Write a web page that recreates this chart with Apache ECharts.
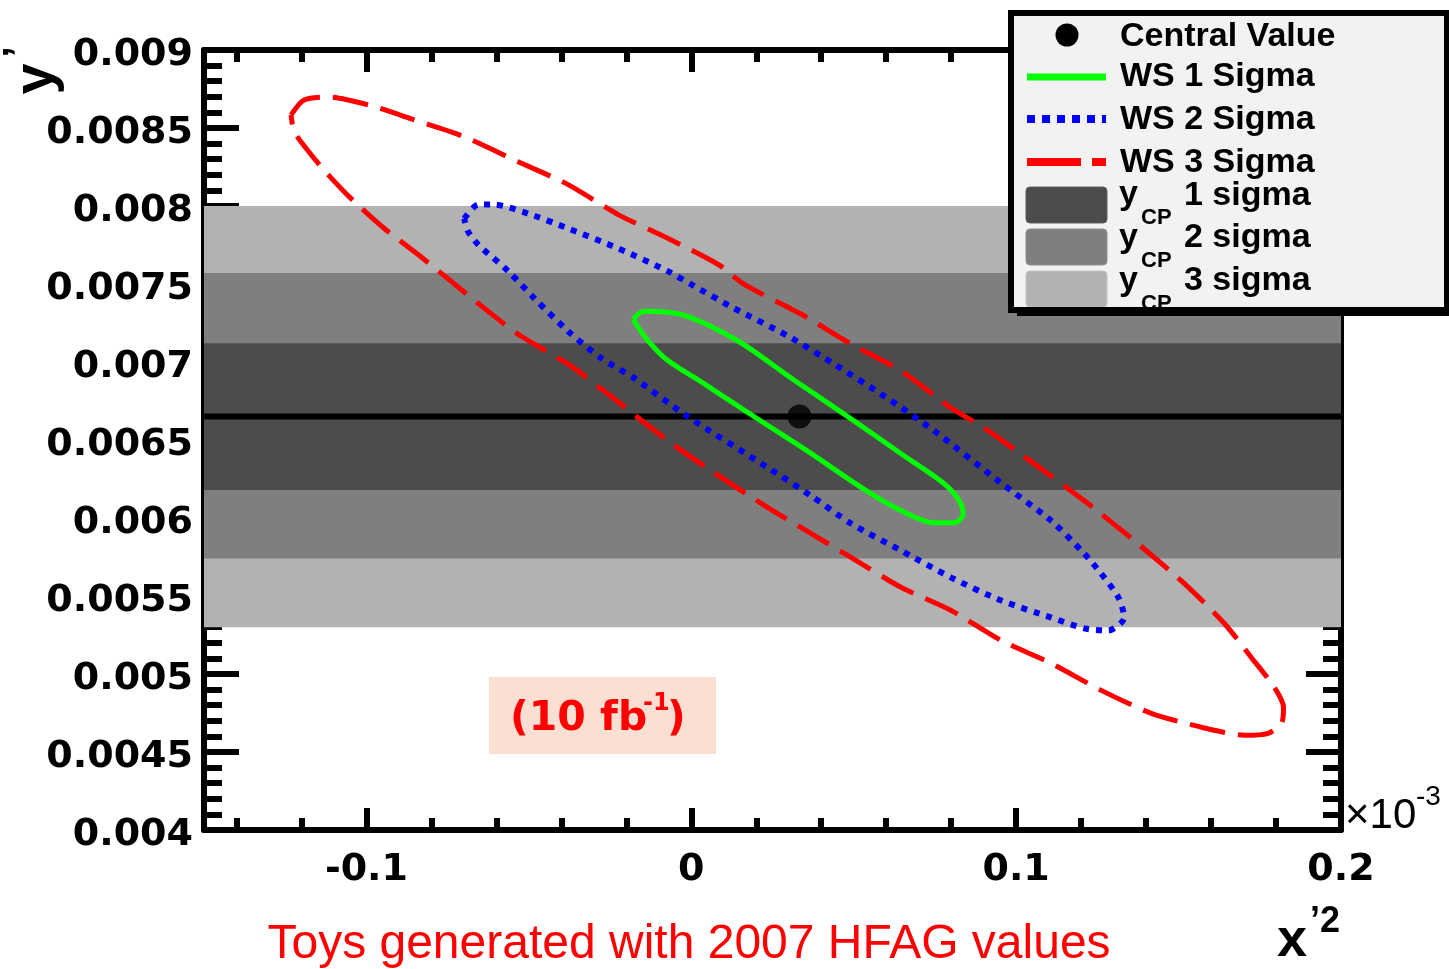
<!DOCTYPE html>
<html>
<head>
<meta charset="utf-8">
<script src="https://cdn.jsdelivr.net/npm/echarts@6/dist/echarts.min.js"></script>
<style>
html,body{margin:0;padding:0;background:#fff;}
#chart{width:1449px;height:969px;}
</style>
</head>
<body>
<div id="chart"></div>
<script>
// ---------- data ----------
const xRange = [-0.15, 0.2];
const yRange = [0.004, 0.009];
const yInterval = 0.0005;
const xMajorTicks = [-0.1, 0, 0.1, 0.2];
const xMinorTicks = [-0.14, -0.12, -0.08, -0.06, -0.04, -0.02, 0.02, 0.04, 0.06, 0.08, 0.12, 0.14, 0.16, 0.18];

const centralValue = [0.0333, 0.00665];
const ycpCenter = 0.00665;
const ycp1Sigma = [0.00618, 0.00712];
const ycp2Sigma = [0.00574, 0.00757];
const ycp3Sigma = [0.00530, 0.00800];

// WS 1 sigma contour (green)
const ws1Sigma = [
  [-0.0179,0.007274],[-0.0145,0.007325],[-0.0022,0.007299],[0.0145,0.007133],[0.0308,0.006896],
  [0.0493,0.006634],[0.0647,0.006410],[0.0779,0.006219],[0.0825,0.006110],[0.0837,0.006027],
  [0.0810,0.005969],[0.0748,0.005969],[0.0647,0.006046],[0.0530,0.006187],[0.0357,0.006430],
  [0.0200,0.006641],[0.0046,0.006852],[-0.0077,0.007018],[-0.0139,0.007152],[-0.0179,0.007274]
];
// WS 2 sigma contour (blue)
const ws2Sigma = [
  [-0.0699,0.007919],[-0.0656,0.008009],[-0.0607,0.008009],[-0.0502,0.007951],[-0.0379,0.007856],
  [-0.0225,0.007728],[-0.0071,0.007581],[0.0000,0.007497],[0.0132,0.007344],[0.0299,0.007165],
  [0.0440,0.006986],[0.0594,0.006781],[0.0748,0.006558],[0.0945,0.006238],[0.1108,0.005982],
  [0.1210,0.005771],[0.1262,0.005643],[0.1315,0.005490],[0.1333,0.005362],[0.1284,0.005279],
  [0.1210,0.005292],[0.1108,0.005362],[0.0954,0.005471],[0.0800,0.005618],[0.0647,0.005790],
  [0.0493,0.005963],[0.0369,0.006142],[0.0237,0.006321],[-0.0022,0.006665],[-0.0175,0.006896],
  [-0.0277,0.007024],[-0.0379,0.007197],[-0.0483,0.007408],[-0.0563,0.007581],[-0.0656,0.007753],
  [-0.0687,0.007836],[-0.0699,0.007919]
];
// WS 3 sigma contour (red)
const ws3Sigma = [
  [-0.1232,0.008584],[-0.1192,0.008680],[-0.1118,0.008699],[-0.0994,0.008648],[-0.0862,0.008559],
  [-0.0699,0.008444],[-0.0533,0.008284],[-0.0379,0.008137],[-0.0225,0.007945],[-0.0071,0.007792],
  [0.0083,0.007625],[0.0163,0.007497],[0.0339,0.007306],[0.0493,0.007114],[0.0647,0.006941],
  [0.0800,0.006705],[0.0902,0.006577],[0.1056,0.006347],[0.1210,0.006110],[0.1364,0.005854],
  [0.1518,0.005579],[0.1641,0.005324],[0.1724,0.005106],[0.1795,0.004914],[0.1823,0.004786],
  [0.1817,0.004684],[0.1776,0.004620],[0.1703,0.004607],[0.1570,0.004659],[0.1416,0.004748],
  [0.1262,0.004895],[0.1108,0.005068],[0.0954,0.005215],[0.0800,0.005407],[0.0647,0.005554],
  [0.0493,0.005746],[0.0391,0.005873],[0.0237,0.006065],[0.0062,0.006302],[-0.0071,0.006494],
  [-0.0256,0.006794],[-0.0379,0.006986],[-0.0533,0.007178],[-0.0637,0.007344],[-0.0739,0.007517],
  [-0.0841,0.007689],[-0.0945,0.007856],[-0.1047,0.008047],[-0.1118,0.008201],[-0.1170,0.008329],
  [-0.1222,0.008476],[-0.1232,0.008584]
];

const legendLabels = ['Central Value', 'WS 1 Sigma', 'WS 2 Sigma', 'WS 3 Sigma'];
const bandLegend = ['1 sigma', '2 sigma', '3 sigma'];

// ---------- chart ----------
const chart = echarts.init(document.getElementById('chart'), null, {renderer: 'canvas'});

const BLACK = '#000';
const tickFont = 'DejaVu Sans';
const lineW = 6;

function xAxisDef(pos, ticks, len, showLine, showLabel) {
  return {
    type: 'value', position: pos, min: xRange[0], max: xRange[1],
    axisLine: {show: showLine, onZero: false, lineStyle: {color: BLACK, width: lineW}},
    axisTick: {show: true, inside: true, length: len, customValues: ticks,
               lineStyle: {color: BLACK, width: 6}},
    axisLabel: showLabel ? {
      show: true, customValues: ticks, margin: 21, color: BLACK,
      fontFamily: tickFont, fontWeight: 'bold', fontSize: 38,
      formatter: v => String(+v.toFixed(3))
    } : {show: false},
    splitLine: {show: false}, minorTick: {show: false}
  };
}
function yAxisDef(pos, showLabel) {
  return {
    type: 'value', position: pos, min: yRange[0], max: yRange[1], interval: yInterval,
    axisLine: {show: true, onZero: false, lineStyle: {color: BLACK, width: lineW}},
    axisTick: {show: true, inside: true, length: 35, lineStyle: {color: BLACK, width: 6}},
    minorTick: {show: true, splitNumber: 5, length: 18, lineStyle: {color: BLACK, width: 6}},
    axisLabel: showLabel ? {
      show: true, margin: 11, color: BLACK, verticalAlign: 'top', lineHeight: 10,
      fontFamily: tickFont, fontWeight: 'bold', fontSize: 38,
      formatter: v => v.toFixed(4).replace(/0+$/, '')
    } : {show: false},
    splitLine: {show: false}
  };
}

const legendFont = 'bold 34px "Liberation Sans", Arial, sans-serif';
const legendSub = 'bold 22px "Liberation Sans", Arial, sans-serif';
const Z = 100;

function txt(text, x, y, font, fill, align, extra) {
  return Object.assign({
    type: 'text', x: x, y: y, z: Z,
    style: {text: text, font: font, fill: fill || BLACK, align: align || 'left', verticalAlign: 'middle'}
  }, extra || {});
}

const graphics = [
  // legend box
  {type: 'rect', z: Z, shape: {x: 1017, y: 19, width: 436, height: 297}, style: {fill: BLACK}},
  {type: 'rect', z: Z, shape: {x: 1011, y: 13, width: 436, height: 297}, style: {fill: '#f2f2f2'}},
  {type: 'circle', z: Z, shape: {cx: 1067, cy: 35, r: 11.5}, style: {fill: BLACK}},
  {type: 'line', z: Z, shape: {x1: 1027, y1: 77, x2: 1106, y2: 77}, style: {stroke: '#00ff00', lineWidth: 7}},
  {type: 'line', z: Z, shape: {x1: 1027, y1: 119, x2: 1106, y2: 119}, style: {stroke: '#0000ff', lineWidth: 8, lineDash: [8, 7]}},
  {type: 'line', z: Z, shape: {x1: 1027, y1: 162, x2: 1081, y2: 162}, style: {stroke: '#ff0000', lineWidth: 8}},
  {type: 'line', z: Z, shape: {x1: 1092, y1: 162, x2: 1106, y2: 162}, style: {stroke: '#ff0000', lineWidth: 8}},
  {type: 'rect', z: Z, shape: {x: 1026, y: 187, width: 81, height: 36, r: 4}, style: {fill: '#4c4c4c', stroke: '#5e5e5e', lineWidth: 1}},
  {type: 'rect', z: Z, shape: {x: 1026, y: 229, width: 81, height: 36, r: 4}, style: {fill: '#7f7f7f', stroke: '#909090', lineWidth: 1}},
  {type: 'rect', z: Z, shape: {x: 1026, y: 271, width: 81, height: 36, r: 4}, style: {fill: '#b2b2b2', stroke: '#c4c4c4', lineWidth: 1}},
  txt(legendLabels[0], 1120, 37, legendFont),
  txt(legendLabels[1], 1120, 77, legendFont),
  txt(legendLabels[2], 1120, 120, legendFont),
  txt(legendLabels[3], 1120, 163, legendFont),
  txt('y', 1119, 195, legendFont), txt('CP', 1141, 218, legendSub), txt(bandLegend[0], 1184, 196, legendFont),
  txt('y', 1119, 238, legendFont), txt('CP', 1141, 261, legendSub), txt(bandLegend[1], 1184, 238, legendFont),
  txt('y', 1119, 281, legendFont), txt('CP', 1141, 304, legendSub), txt(bandLegend[2], 1184, 281, legendFont),
  {type: 'rect', z: Z, shape: {x: 1011, y: 13, width: 436, height: 297}, style: {fill: 'none', stroke: BLACK, lineWidth: 6}},

  // axis titles
  txt('y', 37, 79, 'bold 56px "Liberation Sans", Arial, sans-serif', BLACK, 'center', {rotation: Math.PI / 2}),
  txt('\u2019', 20, 52, 'bold 40px "Liberation Sans", Arial, sans-serif', BLACK, 'center', {rotation: Math.PI / 2}),
  txt('x', 1292, 941, 'bold 54px "Liberation Sans", Arial, sans-serif', BLACK, 'center'),
  txt('\u20192', 1310, 922, 'bold 36px "Liberation Sans", Arial, sans-serif', BLACK, 'left'),
  txt('\u00d710', 1345, 816, '42px "Liberation Sans", Arial, sans-serif', BLACK, 'left'),
  txt('-3', 1416, 797, '28px "Liberation Sans", Arial, sans-serif', BLACK, 'left'),

  // annotations
  {type: 'rect', z: Z, shape: {x: 489, y: 677, width: 227, height: 77}, style: {fill: '#fbdfd3'}},
  txt('(10 fb', 510, 719, 'bold 41px "DejaVu Sans", sans-serif', '#ff0000', 'left'),
  txt('-1', 643, 704, 'bold 24px "DejaVu Sans", sans-serif', '#ff0000', 'left'),
  txt(')', 667, 719, 'bold 41px "DejaVu Sans", sans-serif', '#ff0000', 'left'),
  txt('Toys generated with 2007 HFAG values', 689, 945, '48px "Liberation Sans", Arial, sans-serif', '#ff0000', 'center')
];

const option = {
  animation: false,
  backgroundColor: '#fff',
  grid: {left: 204, right: 108, top: 50, bottom: 139, containLabel: false},
  xAxis: [
    xAxisDef('bottom', xMajorTicks, 22, true, true),
    xAxisDef('bottom', xMinorTicks, 12, false, false),
    xAxisDef('top', xMajorTicks, 22, true, false),
    xAxisDef('top', xMinorTicks, 12, false, false)
  ],
  yAxis: [yAxisDef('left', true), yAxisDef('right', false)],
  series: [
    {
      name: 'ycp', type: 'line', xAxisIndex: 0, yAxisIndex: 0, z: 2,
      data: [[xRange[0], ycpCenter], [xRange[1], ycpCenter]],
      showSymbol: false, symbol: 'none',
      lineStyle: {color: BLACK, width: 6},
      markArea: {
        silent: true,
        data: [
          [{yAxis: ycp3Sigma[0], itemStyle: {color: '#b2b2b2'}}, {yAxis: ycp3Sigma[1]}],
          [{yAxis: ycp2Sigma[0], itemStyle: {color: '#7f7f7f'}}, {yAxis: ycp2Sigma[1]}],
          [{yAxis: ycp1Sigma[0], itemStyle: {color: '#4c4c4c'}}, {yAxis: ycp1Sigma[1]}]
        ]
      }
    },
    {
      name: legendLabels[3], type: 'line', data: ws3Sigma, z: 3,
      showSymbol: false, symbol: 'none', smooth: 0.25,
      lineStyle: {color: '#ff0000', width: 5, type: [36, 13]}
    },
    {
      name: legendLabels[2], type: 'line', data: ws2Sigma, z: 3,
      showSymbol: false, symbol: 'none', smooth: 0.25,
      lineStyle: {color: '#0000ff', width: 6, type: [6, 7]}
    },
    {
      name: legendLabels[1], type: 'line', data: ws1Sigma, z: 3,
      showSymbol: false, symbol: 'none', smooth: 0.3,
      lineStyle: {color: '#00ff00', width: 5}
    },
    {
      name: legendLabels[0], type: 'scatter', data: [centralValue], z: 4,
      symbol: 'circle', symbolSize: 24, itemStyle: {color: BLACK}
    }
  ],
  graphic: {elements: graphics}
};
chart.setOption(option);
</script>
</body>
</html>
